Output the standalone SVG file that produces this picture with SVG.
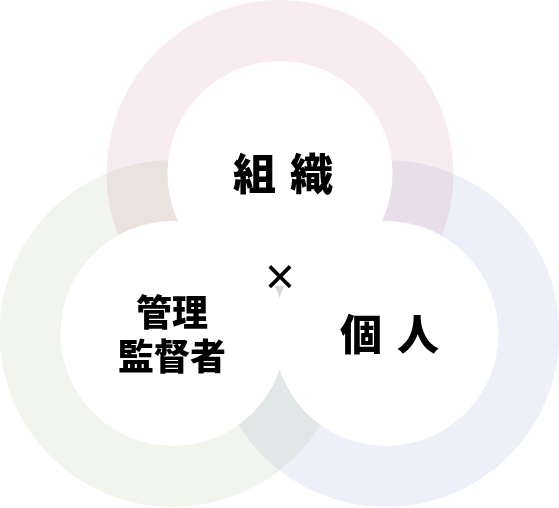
<svg xmlns="http://www.w3.org/2000/svg" width="559" height="508" viewBox="0 0 559 508">
<style>
.ring{mix-blend-mode:multiply}
.inner{fill:#ffffff}
.lbl{font-family:"Noto Sans CJK JP","Noto Sans CJK SC",sans-serif;font-weight:900;fill:#000;text-anchor:middle}
</style>
<rect width="559" height="508" fill="#ffffff"/>
<g id="rings" style="isolation:isolate">
<circle class="ring" cx="280" cy="173.5" r="173.5" fill="#f8ecf0"/>
<circle class="ring" cx="173" cy="333.5" r="173.5" fill="#f2f5ed"/>
<circle class="ring" cx="386" cy="333.5" r="173.5" fill="#eef0f9"/>
</g>
<g id="node-soshiki">
<circle class="inner" cx="280" cy="173.5" r="112.5"/>
</g>
<g id="node-kanri">
<circle class="inner" cx="173" cy="333.5" r="112.5"/>
</g>
<g id="node-kojin">
<circle class="inner" cx="386" cy="333.5" r="112.5"/>
</g>
<g id="labels">
<text class="lbl" x="290" y="190" font-size="43" letter-spacing="14">組織</text>
<text class="lbl" x="172" y="326" font-size="36">管理</text>
<text class="lbl" x="172" y="370" font-size="36">監督者</text>
<text class="lbl" x="397" y="350" font-size="42" letter-spacing="15">個人</text>
<text x="280" y="294" font-size="52" text-anchor="middle" font-family="'Liberation Sans',sans-serif" fill="#000">×</text>
</g>
</svg>
